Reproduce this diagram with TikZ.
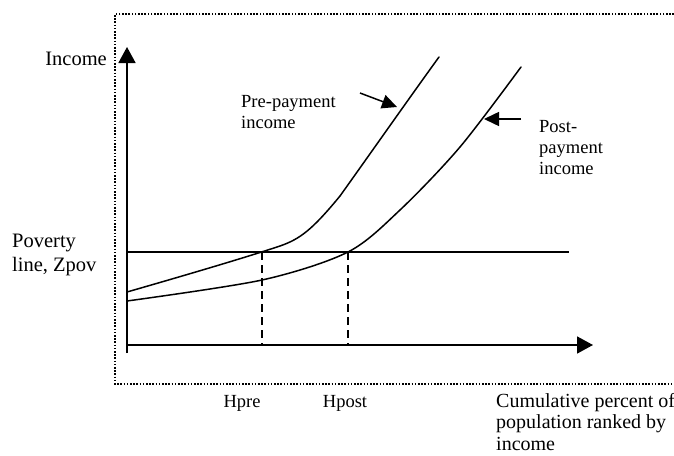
\documentclass[tikz,border=0pt]{standalone}
\usepackage{fontspec}
\setmainfont{Liberation Serif}
\usetikzlibrary{arrows.meta}

\begin{document}
\begin{tikzpicture}[x=1pt,y=-1pt]
\tikzset{
  biglabel/.style={inner sep=0pt,align=left,font=\fontsize{20.5}{24}\selectfont},
  smalllabel/.style={inner sep=0pt,align=left,font=\fontsize{18.5}{21}\selectfont},
  axisline/.style={draw=black,line width=1.7pt,-{Triangle[length=16pt,width=17pt]}},
  curveline/.style={draw=black,line width=1.5pt,line cap=round},
  guideline/.style={draw=black,line width=1.5pt,dash pattern=on 8pt off 5pt},
  pointer/.style={draw=black,line width=1.5pt,-{Triangle[length=15pt,width=14pt]}},
  framebox/.style={draw=black,line width=1.4pt,dash pattern=on 1.6pt off 1.6pt}
}
\useasboundingbox (0,0) rectangle (674,455);
% frame
\draw[framebox] (674,14) -- (115,14) -- (115,384) -- (674,384);
% axes
\coordinate (ybot) at (127,353);
\coordinate (ytip) at (127,47);
\coordinate (xorg) at (127,345);
\coordinate (xtip) at (593,345);
\draw[axisline] (ybot) -- (ytip);
\draw[axisline] (xorg) -- (xtip);
% poverty line
\coordinate (zl) at (127,252);
\coordinate (zr) at (569,252);
\draw[curveline,line cap=butt] (zl) -- (zr);
% headcount guides
\coordinate (hpre_top) at (262,252);
\coordinate (hpre_bot) at (262,345);
\coordinate (hpost_top) at (348,252);
\coordinate (hpost_bot) at (348,345);
\draw[guideline] (hpre_top) -- (hpre_bot);
\draw[guideline] (hpost_top) -- (hpost_bot);
% income curves
\draw[curveline] (127,292) .. controls (200,271) and (250,256) .. (280,246)
  .. controls (300,239) and (312,230) .. (340,196)
  .. controls (370,154) and (410,97) .. (439,57);
\draw[curveline] plot[smooth,tension=0.5] coordinates {(127,301) (262,280) (348,252) (400,210) (460,147) (521,67)};
% pointers
\coordinate (pre_from) at (360,93);
\coordinate (pre_to) at (397,107);
\coordinate (post_from) at (521,119);
\coordinate (post_to) at (484,119);
\draw[pointer] (pre_from) -- (pre_to);
\draw[pointer] (post_from) -- (post_to);
% labels
\node[biglabel,anchor=base east] (l_income) at (107,65) {Income};
\node[biglabel,anchor=north west] (l_zpov) at (12,234) {Poverty\\line, Zpov};
\node[smalllabel,anchor=north west] (l_pre) at (241,95) {Pre-payment\\income};
\node[smalllabel,anchor=north west] (l_post) at (539,120) {Post-\\payment\\income};
\node[smalllabel,anchor=base] (l_hpre) at (242,407) {Hpre};
\node[smalllabel,anchor=base] (l_hpost) at (345,407) {Hpost};
\node[biglabel,anchor=north west,font=\fontsize{20}{21.5}\selectfont] (l_cum) at (496,393) {Cumulative percent of\\population ranked by\\income};
\end{tikzpicture}
\end{document}
